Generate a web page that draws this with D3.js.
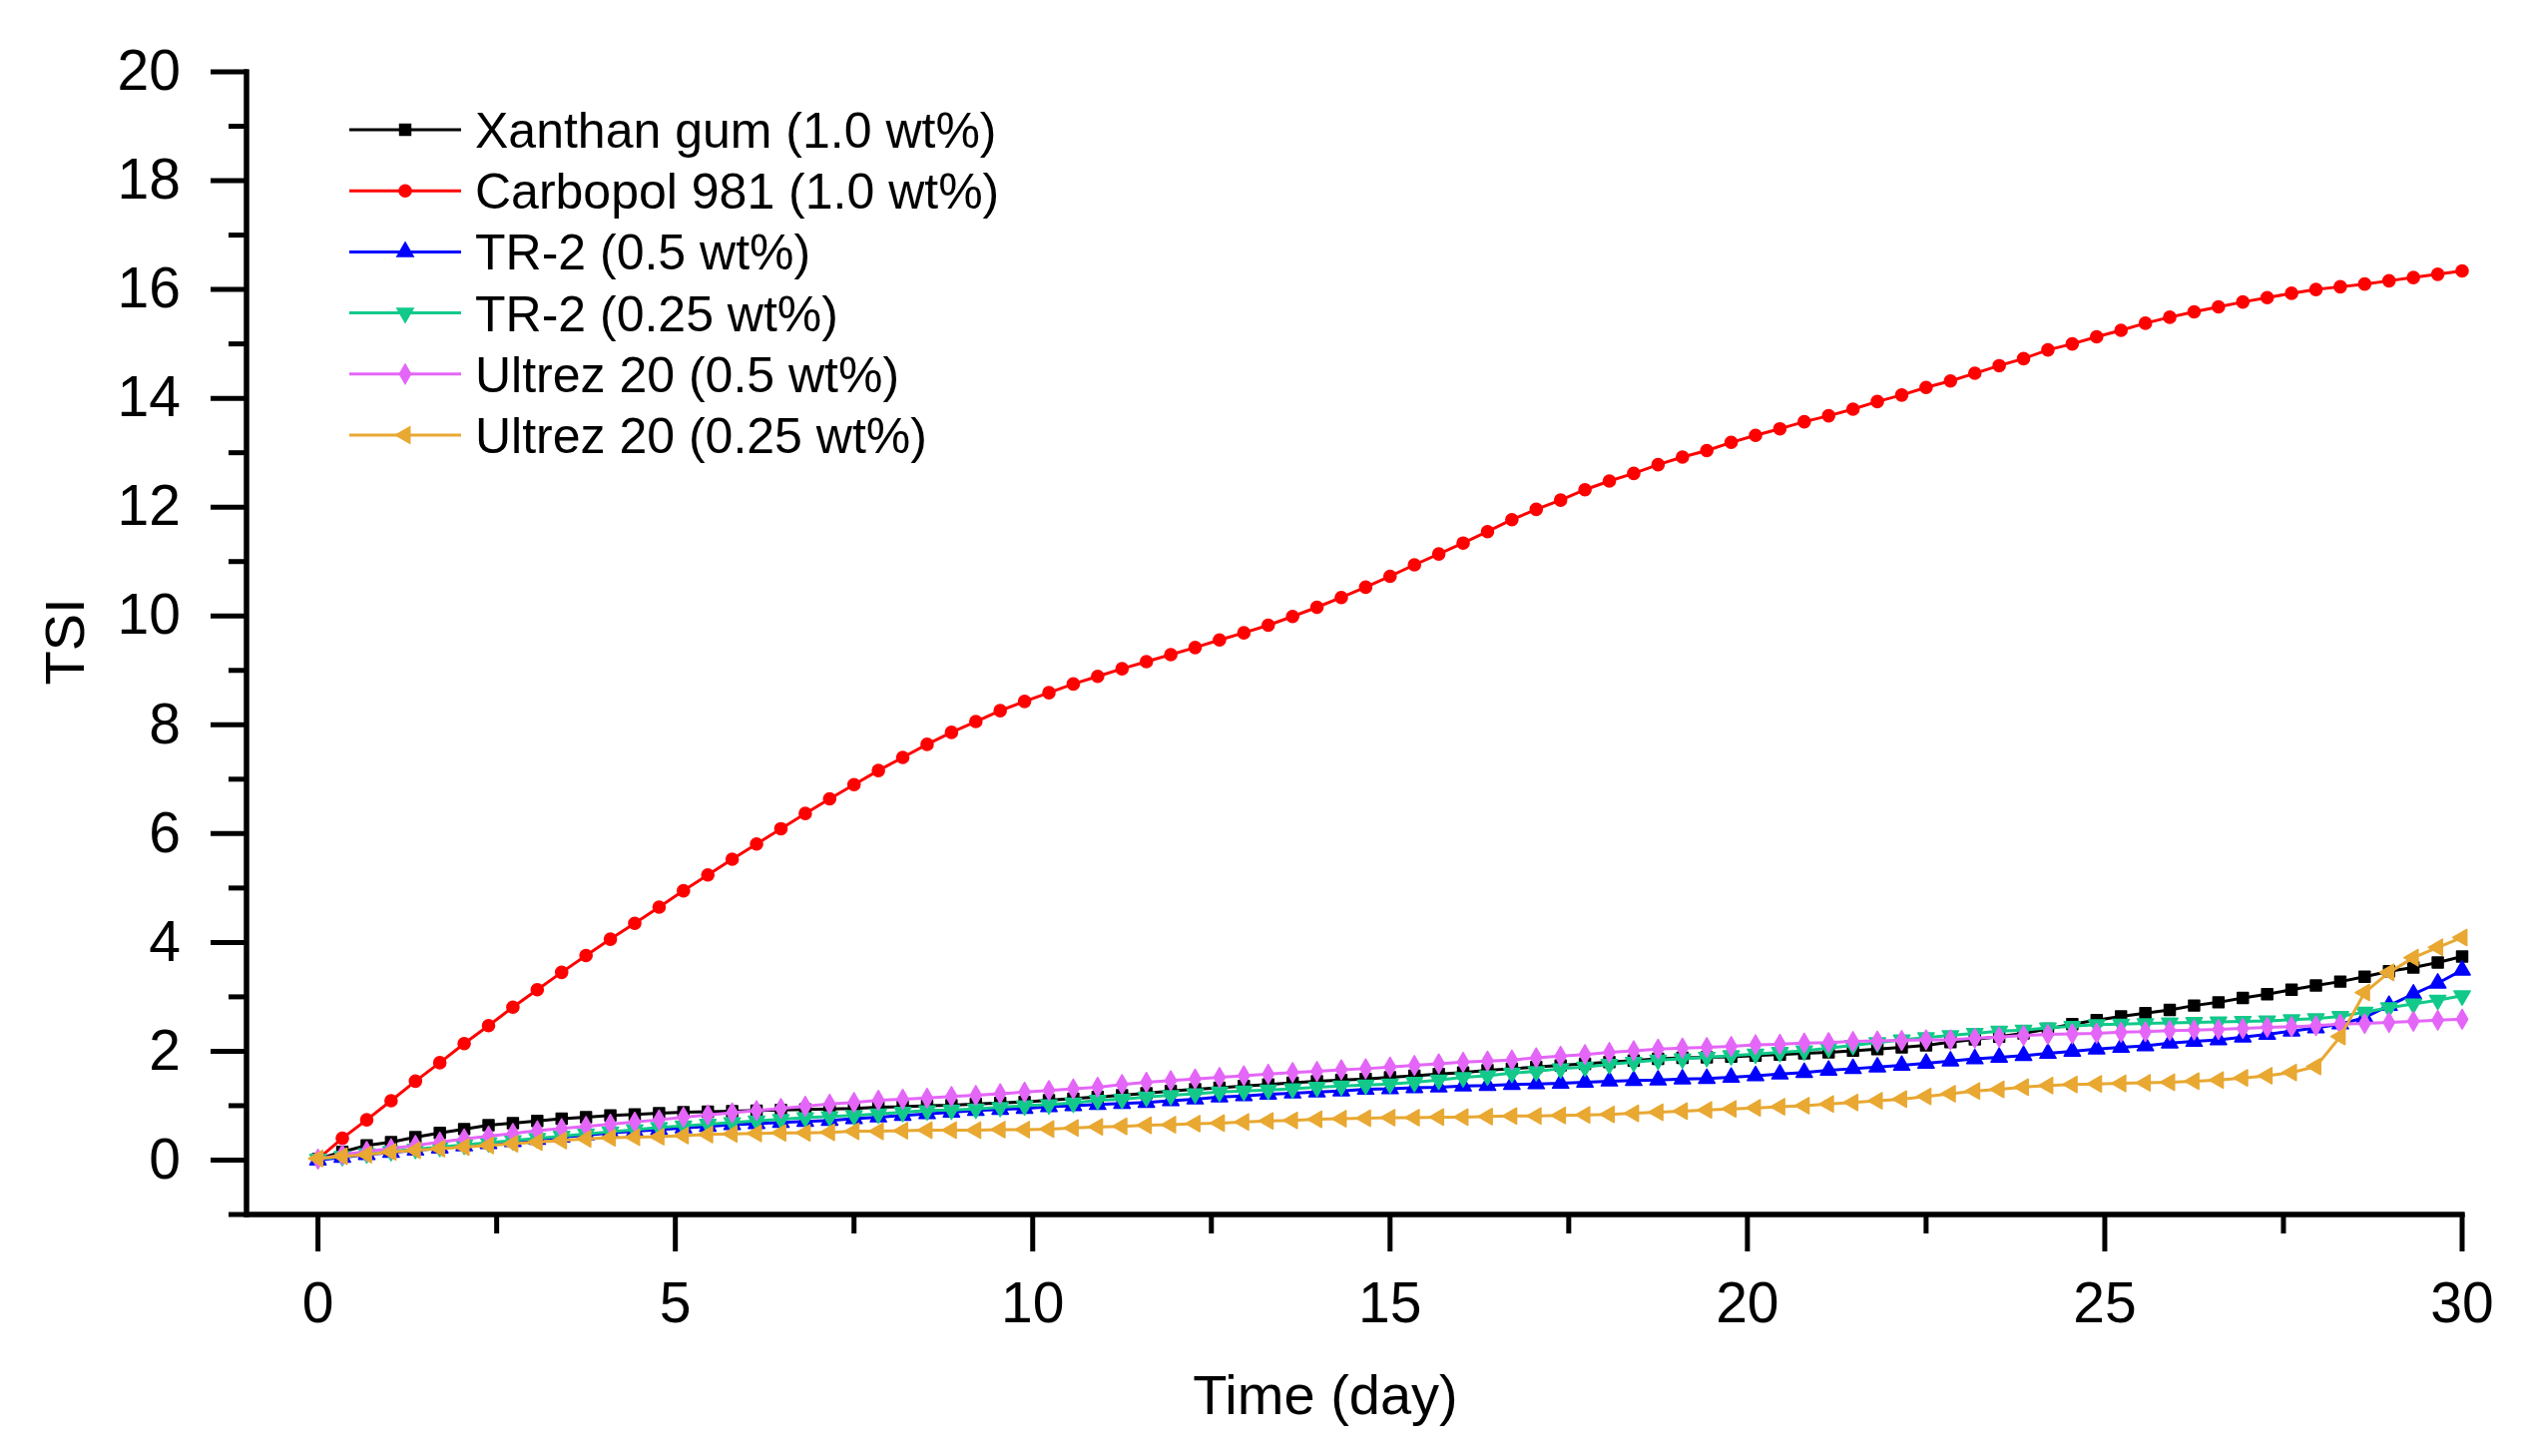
<!DOCTYPE html>
<html lang="en">
<head>
  <meta charset="UTF-8">
  <title>TSI vs time</title>
  <style>
    body, html {
      margin: 0;
      padding: 0;
      background-color: white;
    }
    #svg {
      display: block;
    }
    text {
      font-family: 'Liberation Sans', Arial, sans-serif;
      fill: black;
    }
  </style>
</head>
<body>
  <svg id="svg" width="2532" height="1459"></svg>
  <script src="https://d3js.org/d3.v7.min.js"></script>
  <script>
    // TSI readings, one every 30/88 day
    const xanthan = [0.02, 0.15, 0.27, 0.33, 0.42, 0.50, 0.57, 0.64, 0.68, 0.72, 0.76, 0.79, 0.82, 0.84, 0.86, 0.88, 0.89, 0.90, 0.91, 0.92, 0.93, 0.94,
      0.95, 0.97, 0.98, 1.00, 1.01, 1.03, 1.05, 1.07, 1.10, 1.13, 1.16, 1.19, 1.23, 1.27, 1.30, 1.33, 1.36, 1.39, 1.42, 1.45, 1.47,
      1.49, 1.52, 1.55, 1.58, 1.61, 1.65, 1.68, 1.71, 1.74, 1.77, 1.80, 1.83, 1.86, 1.88, 1.89, 1.90, 1.92, 1.94, 1.96, 1.98, 2.01,
      2.04, 2.07, 2.11, 2.17, 2.22, 2.27, 2.33, 2.41, 2.50, 2.57, 2.64, 2.70, 2.76, 2.84, 2.90, 2.98, 3.05, 3.13, 3.21, 3.28, 3.37, 3.47, 3.54, 3.63, 3.74]
    const carbopol = [0.02, 0.40, 0.74, 1.09, 1.45, 1.79, 2.14, 2.47, 2.81, 3.13, 3.45, 3.76, 4.06, 4.35, 4.65, 4.95, 5.24, 5.53, 5.81, 6.09, 6.37, 6.64,
      6.90, 7.16, 7.40, 7.64, 7.86, 8.06, 8.26, 8.43, 8.59, 8.75, 8.89, 9.03, 9.16, 9.29, 9.42, 9.56, 9.69, 9.83, 9.99, 10.16, 10.34,
      10.53, 10.73, 10.94, 11.14, 11.34, 11.55, 11.77, 11.96, 12.13, 12.32, 12.48, 12.62, 12.78, 12.92, 13.04, 13.19, 13.32, 13.44, 13.57,
      13.68, 13.80, 13.94, 14.06, 14.20, 14.32, 14.46, 14.60, 14.73, 14.89, 15.00, 15.13, 15.25, 15.38, 15.49, 15.59, 15.68, 15.77, 15.85, 15.93, 16.00, 16.05, 16.10, 16.16, 16.22, 16.28, 16.34]
    const tr2Half = [0.00, 0.05, 0.10, 0.14, 0.18, 0.22, 0.26, 0.30, 0.34, 0.38, 0.42, 0.46, 0.50, 0.53, 0.56, 0.59, 0.62, 0.65, 0.67, 0.69, 0.71, 0.73,
      0.76, 0.79, 0.82, 0.85, 0.88, 0.91, 0.93, 0.95, 0.98, 1.00, 1.02, 1.04, 1.06, 1.09, 1.12, 1.16, 1.18, 1.21, 1.23, 1.25, 1.27,
      1.30, 1.31, 1.33, 1.34, 1.36, 1.37, 1.39, 1.40, 1.41, 1.43, 1.45, 1.46, 1.47, 1.49, 1.50, 1.52, 1.55, 1.58, 1.61, 1.65, 1.68,
      1.71, 1.74, 1.78, 1.82, 1.86, 1.89, 1.92, 1.96, 2.00, 2.04, 2.07, 2.10, 2.15, 2.18, 2.21, 2.26, 2.31, 2.37, 2.43, 2.50, 2.62, 2.84, 3.05, 3.25, 3.49]
    const tr2Quarter = [0.02, 0.07, 0.12, 0.16, 0.20, 0.24, 0.28, 0.32, 0.36, 0.40, 0.44, 0.48, 0.52, 0.56, 0.60, 0.63, 0.66, 0.69, 0.72, 0.75, 0.78, 0.80,
      0.82, 0.85, 0.88, 0.91, 0.92, 0.94, 0.97, 1.00, 1.02, 1.05, 1.10, 1.12, 1.16, 1.19, 1.22, 1.25, 1.27, 1.29, 1.31, 1.34, 1.36,
      1.38, 1.40, 1.43, 1.47, 1.52, 1.55, 1.60, 1.63, 1.68, 1.71, 1.76, 1.80, 1.84, 1.86, 1.89, 1.92, 1.95, 1.98, 2.01, 2.06, 2.11,
      2.16, 2.21, 2.25, 2.29, 2.33, 2.37, 2.39, 2.43, 2.46, 2.49, 2.50, 2.51, 2.52, 2.53, 2.54, 2.55, 2.56, 2.58, 2.60, 2.64, 2.72, 2.80, 2.87, 2.94, 3.02]
    const ultrezHalf = [0.02, 0.10, 0.16, 0.21, 0.27, 0.33, 0.39, 0.44, 0.49, 0.54, 0.58, 0.62, 0.66, 0.70, 0.74, 0.79, 0.83, 0.87, 0.91, 0.95, 0.99, 1.03,
      1.06, 1.10, 1.12, 1.14, 1.17, 1.19, 1.22, 1.25, 1.28, 1.31, 1.34, 1.39, 1.43, 1.46, 1.49, 1.52, 1.55, 1.58, 1.61, 1.63, 1.66,
      1.68, 1.71, 1.74, 1.77, 1.80, 1.82, 1.84, 1.88, 1.91, 1.94, 1.98, 2.01, 2.04, 2.06, 2.07, 2.09, 2.12, 2.13, 2.15, 2.16, 2.18,
      2.19, 2.20, 2.21, 2.21, 2.24, 2.26, 2.29, 2.31, 2.32, 2.33, 2.35, 2.36, 2.38, 2.39, 2.40, 2.42, 2.44, 2.45, 2.47, 2.50, 2.51, 2.53, 2.55, 2.57, 2.59]
    const ultrezQuarter = [0.03, 0.07, 0.10, 0.15, 0.18, 0.21, 0.24, 0.27, 0.30, 0.33, 0.36, 0.39, 0.41, 0.42, 0.43, 0.45, 0.47, 0.48, 0.49, 0.50, 0.50, 0.51,
      0.53, 0.53, 0.54, 0.55, 0.55, 0.55, 0.56, 0.56, 0.57, 0.59, 0.61, 0.62, 0.64, 0.65, 0.67, 0.68, 0.70, 0.72, 0.73, 0.75, 0.76,
      0.77, 0.78, 0.78, 0.79, 0.79, 0.80, 0.81, 0.81, 0.82, 0.83, 0.84, 0.86, 0.88, 0.90, 0.92, 0.94, 0.96, 0.98, 1.00, 1.03, 1.06,
      1.09, 1.12, 1.17, 1.22, 1.27, 1.30, 1.34, 1.37, 1.39, 1.40, 1.41, 1.42, 1.43, 1.45, 1.47, 1.51, 1.55, 1.61, 1.72, 2.27, 3.08, 3.45, 3.72, 3.91, 4.09]

    const seriesNames = ['Xanthan gum (1.0 wt%)', 'Carbopol 981 (1.0 wt%)', 'TR-2 (0.5 wt%)',
      'TR-2 (0.25 wt%)', 'Ultrez 20 (0.5 wt%)', 'Ultrez 20 (0.25 wt%)']
    const seriesValues = [xanthan, carbopol, tr2Half, tr2Quarter, ultrezHalf, ultrezQuarter]
    const colors = ['#000000', '#ff0000', '#0000ff', '#12c98a', '#e466f8', '#e8a832']
    const yTickValues = [0, 2, 4, 6, 8, 10, 12, 14, 16, 18, 20]
    const xTickValues = [0, 5, 10, 15, 20, 25, 30]

    const step = 30 / 88
    const days = xanthan.map((d, i) => i * step)

    const symbols = [
      { type: d3.symbolSquare, size: 120, rotate: 0 },
      { type: d3.symbolCircle, size: 115, rotate: 0 },
      { type: d3.symbolTriangle, size: 115, rotate: 0 },
      { type: d3.symbolTriangle, size: 115, rotate: 180 },
      { type: d3.symbolDiamond, size: 110, rotate: 0 },
      { type: d3.symbolTriangle, size: 115, rotate: -90 }
    ]

    const svg = d3.select('#svg')
    svg.append('rect').attr('width', 2532).attr('height', 1459).attr('fill', 'white')

    const xScale = d3.scaleLinear().domain([-1, 30]).range([247, 2467])
    const yScale = d3.scaleLinear().domain([-1, 20]).range([1217, 72])

    function styleAxis(g, size) {
      g.selectAll('path').attr('stroke', 'black').attr('stroke-width', 5).attr('stroke-linecap', 'square')
      g.selectAll('line').attr('stroke', 'black').attr('stroke-width', 5)
      g.selectAll('text').style('font-family', "'Liberation Sans', Arial, sans-serif").style('font-size', size + 'px').attr('fill', 'black')
    }

    // y axis: minor ticks at odd values, major every 2
    svg.append('g')
      .attr('transform', 'translate(247,0)')
      .call(d3.axisLeft(yScale).tickValues(d3.range(-1, 20, 2)).tickSize(18).tickSizeOuter(0).tickFormat('').offset(0))
      .call(g => styleAxis(g, 57))
    svg.append('g')
      .attr('transform', 'translate(247,0)')
      .call(d3.axisLeft(yScale).tickValues(yTickValues).tickSize(36).tickSizeOuter(0).tickPadding(30).offset(0))
      .call(g => styleAxis(g, 57))

    // x axis
    svg.append('g')
      .attr('transform', 'translate(0,1217)')
      .call(d3.axisBottom(xScale).tickValues(d3.range(2.5, 30, 5)).tickSize(19).tickSizeOuter(0).tickFormat('').offset(0))
      .call(g => styleAxis(g, 57))
    svg.append('g')
      .attr('transform', 'translate(0,1217)')
      .call(d3.axisBottom(xScale).tickValues(xTickValues).tickSize(37).tickSizeOuter(0).tickPadding(31).offset(0))
      .call(g => styleAxis(g, 57))

    svg.append('text')
      .attr('x', 1328)
      .attr('y', 1417)
      .attr('text-anchor', 'middle')
      .style('font-size', '56px')
      .text('Time (day)')

    svg.append('text')
      .attr('transform', 'translate(84,643) rotate(-90)')
      .attr('text-anchor', 'middle')
      .style('font-size', '56px')
      .text('TSI')

    const line = d3.line()
      .x(d => xScale(d[0]))
      .y(d => yScale(d[1]))

    seriesValues.forEach((values, s) => {
      const pts = values.map((v, i) => [days[i], v])
      const g = svg.append('g')
      g.append('path')
        .attr('d', line(pts))
        .attr('fill', 'none')
        .attr('stroke', colors[s])
        .attr('stroke-width', 3)
      g.selectAll('path.marker')
        .data(pts)
        .enter()
        .append('path')
        .attr('class', 'marker')
        .attr('d', d3.symbol().type(symbols[s].type).size(symbols[s].size))
        .attr('transform', d => `translate(${xScale(d[0])},${yScale(d[1])}) rotate(${symbols[s].rotate})`)
        .attr('fill', colors[s])
        .attr('stroke', colors[s])
        .attr('stroke-width', 1.5)
        .attr('stroke-linejoin', 'round')
    })

    // legend
    const legend = svg.append('g')
    seriesNames.forEach((name, s) => {
      const y = 130 + s * 61.2
      legend.append('line')
        .attr('x1', 350).attr('x2', 462)
        .attr('y1', y).attr('y2', y)
        .attr('stroke', colors[s])
        .attr('stroke-width', 3)
      legend.append('path')
        .attr('d', d3.symbol().type(symbols[s].type).size(symbols[s].size)())
        .attr('transform', `translate(406,${y}) rotate(${symbols[s].rotate})`)
        .attr('fill', colors[s])
        .attr('stroke', colors[s])
        .attr('stroke-width', 1.5)
      legend.append('text')
        .attr('x', 476)
        .attr('y', y)
        .attr('dy', '0.36em')
        .style('font-size', '50px')
        .text(name)
    })
  </script>
</body>
</html>
